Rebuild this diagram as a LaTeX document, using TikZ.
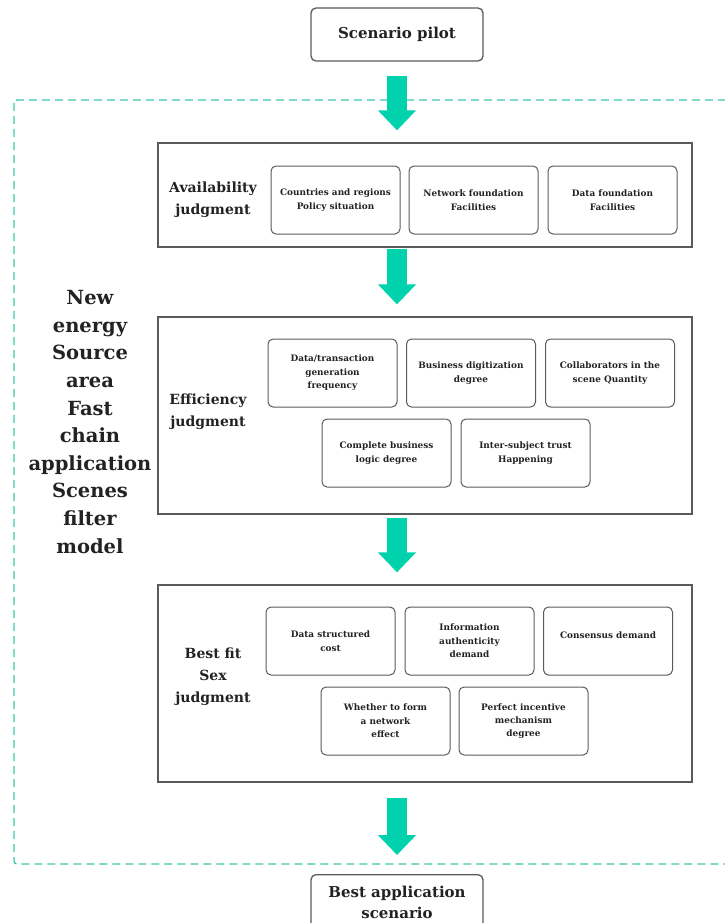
\documentclass[tikz,border=0pt]{standalone}
\usepackage{fontspec}
\setmainfont{DejaVu Serif}
\usetikzlibrary{arrows.meta,calc}
\definecolor{flowgreen}{HTML}{00D2AE}
\definecolor{framegreen}{HTML}{3CC7AA}
\definecolor{edgegrey}{HTML}{5A5A5A}
\definecolor{inkdark}{HTML}{222222}
\begin{document}
\begin{tikzpicture}[x=1pt,y=-1pt,
  endbox/.style={draw=edgegrey,line width=1.3pt,rounded corners=5pt,fill=white,
    minimum width=172pt,align=center,text=inkdark,font=\bfseries\fontsize{15}{19}\selectfont},
  stagebox/.style={draw=edgegrey,line width=1.3pt,minimum width=534pt},
  itembox/.style={draw=edgegrey,line width=1pt,rounded corners=5pt,minimum width=129pt,
    minimum height=68pt},
  itemtext/.style={align=center,text=inkdark,font=\bfseries\fontsize{8.9}{13.4}\selectfont},
  stagelabel/.style={align=center,text=inkdark,font=\bfseries\fontsize{14}{22}\selectfont},
  flowarrow/.style={draw=flowgreen,line width=20pt,-{Triangle[width=37pt,length=20pt]}},
]
\useasboundingbox (0,0) rectangle (725,923);
\clip (0,0) rectangle (725,923);

% dashed frame around the filter model
\draw[framegreen,line width=1.4pt,dash pattern=on 8pt off 5pt,rounded corners=3pt]
  (14,100) rectangle (760,864);

% start and end
\node[endbox,minimum height=53pt] (pilot) at (397,34.5) {Scenario pilot};
\node[endbox,minimum height=64pt,anchor=north] (best) at (397,874) {};
\node[align=center,text=inkdark,font=\bfseries\fontsize{15}{21}\selectfont] (besttext) at (397,902.5)
  {Best application\\scenario};

% stage frames
\node[stagebox,minimum height=104pt] (avail) at (425,195) {};
\node[stagebox,minimum height=197pt] (effic) at (425,415.5) {};
\node[stagebox,minimum height=197pt] (fit) at (425,683.5) {};

% model title on the left
\node[align=center,text=inkdark,font=\bfseries\fontsize{19.5}{27.6}\selectfont] (model) at (90,422)
  {New\\energy\\Source\\area\\Fast\\chain\\application\\Scenes\\filter\\model};

% availability judgment
\node[stagelabel] (availlab) at (213,200) {Availability\\judgment};
\node[itembox] (a1) at (335.5,200) {};
\node[itembox] (a2) at (473.5,200) {};
\node[itembox] (a3) at (612.5,200) {};
\node[itemtext] at (a1) {Countries and regions\\Policy situation};
\node[itemtext] at (a2) {Network foundation\\Facilities};
\node[itemtext] at (a3) {Data foundation\\Facilities};

% efficiency judgment
\node[stagelabel] (efficlab) at (208,412) {Efficiency\\judgment};
\node[itembox] (e1) at (332.5,373) {};
\node[itembox] (e2) at (471,373) {};
\node[itembox] (e3) at (610,373) {};
\node[itembox] (e4) at (386.5,453) {};
\node[itembox] (e5) at (525.5,453) {};
\node[itemtext] at (e1) {Data/transaction\\generation\\frequency};
\node[itemtext] at (e2) {Business digitization\\degree};
\node[itemtext] at (e3) {Collaborators in the\\scene Quantity};
\node[itemtext] at (e4) {Complete business\\logic degree};
\node[itemtext] at (e5) {Inter-subject trust\\Happening};

% best fit judgment
\node[stagelabel] (fitlab) at (213,677) {Best fit\\Sex\\judgment};
\node[itembox] (f1) at (330.5,641) {};
\node[itembox] (f2) at (469.5,641) {};
\node[itembox] (f3) at (608,641) {};
\node[itembox] (f4) at (385.5,721) {};
\node[itembox] (f5) at (523.5,721) {};
\node[itemtext] at (f1) {Data structured\\cost};
\node[itemtext] at (f2) {Information\\authenticity\\demand};
\node[itemtext] at ($(f3)+(0,-6)$) {Consensus demand};
\node[itemtext] at (f4) {Whether to form\\a network\\effect};
\node[itemtext] at (f5) {Perfect incentive\\mechanism\\degree};

% flow arrows between the stages, on the axis of the start box
\draw[flowarrow] ($(pilot.south)+(0,14)$) -- ($(pilot.south |- avail.north)+(0,-12)$);
\draw[flowarrow] ($(pilot.south |- avail.south)+(0,1)$) -- ($(pilot.south |- effic.north)+(0,-12)$);
\draw[flowarrow] ($(pilot.south |- effic.south)+(0,3)$) -- ($(pilot.south |- fit.north)+(0,-12)$);
\draw[flowarrow] ($(pilot.south |- fit.south)+(0,15)$) -- ($(best.north)+(0,-19)$);
\end{tikzpicture}
\end{document}
